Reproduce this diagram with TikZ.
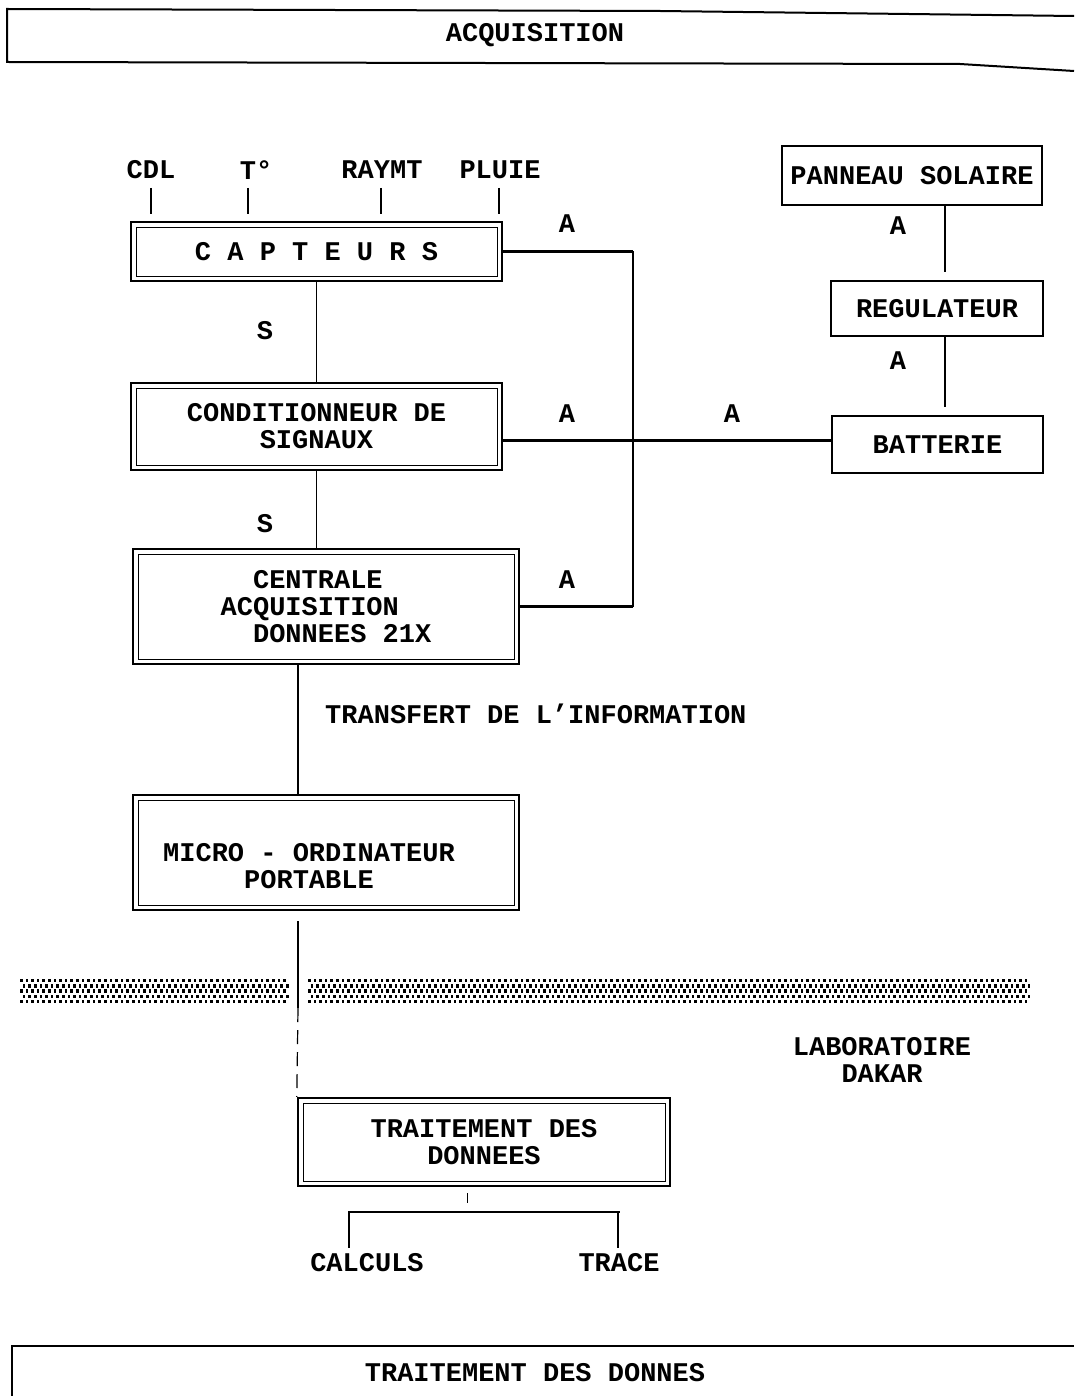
\documentclass[tikz,border=0pt]{standalone}
\usepackage{fontspec}
\setmonofont{Liberation Mono}
\begin{document}
\begin{tikzpicture}[x=1pt,y=-1pt,
  txt/.style={font=\fontsize{27}{27}\selectfont\ttfamily\bfseries, inner sep=0pt, align=center},
  dbox/.style={txt, draw, line width=2.4pt,
    path picture={\draw[line width=0.9pt] ([shift={(5pt,-5pt)}]path picture bounding box.north west) rectangle ([shift={(-5pt,5pt)}]path picture bounding box.south east);}},
  sbox/.style={txt, draw, line width=1.4pt},
  conn/.style={line width=1.2pt},
  bus/.style={line width=2.2pt},
  frame/.style={line width=2pt}
]
\useasboundingbox (0,0) rectangle (1074,1396);
\clip (0,0) rectangle (1074,1396);

% headers
\draw[frame] (1074,16) -- (660,11) -- (7,9) -- (7,62) -- (960,64) -- (1074,71);
\node[txt] (hdr) at (535,35) {ACQUISITION};
\draw[frame] (12,1400) -- (12,1346) -- (1074,1346);
\node[txt] (ftr) at (535,1373) {TRAITEMENT DES DONNES};

% sensors
\node[txt] (cdl) at (151,170) {CDL};
\node[txt] (temp) at (256,170) {T°};
\node[txt] (ray) at (382,170) {RAYMT};
\node[txt] (pluie) at (500,170) {PLUIE};

% main chain
\node[dbox, minimum width=371, minimum height=59] (capt) at (316.5,251.5) {C A P T E U R S};
\node[dbox, minimum width=371, minimum height=87] (cond) at (316.5,426.5) {CONDITIONNEUR DE\\SIGNAUX};
\node[dbox, minimum width=386, minimum height=115, align=left] (cent) at (326,606.5) {\ \ CENTRALE\\ACQUISITION\\\ \ DONNEES 21X};
\node[dbox, minimum width=386, minimum height=115] (micro) at (326,852.5) {};
\node[txt] (microt) at (309,866) {MICRO - ORDINATEUR\\PORTABLE};
\node[dbox, minimum width=372, minimum height=88] (trait) at (484,1142) {TRAITEMENT DES\\DONNEES};

% power chain
\node[sbox, minimum width=260, minimum height=59] (pan) at (912,175.5) {PANNEAU SOLAIRE};
\node[sbox, minimum width=212, minimum height=55] (reg) at (937,308.5) {REGULATEUR};
\node[sbox, minimum width=211, minimum height=57] (batt) at (937.5,444.5) {BATTERIE};

% sensor ticks
\coordinate (cc) at (151,188);
\coordinate (tt) at (248,188);
\coordinate (rr) at (381,188);
\coordinate (pp) at (499,188);
\foreach \k in {cc,tt,rr,pp} {
  \draw[conn] (\k) -- ([yshift=7pt]capt.north -| \k);
}

% S links
\draw[conn] (capt.south) -- (cond.north);
\node[txt] (s1) at (265,331) {S};
\draw[conn] (cond.south) -- (cond.south |- cent.north);
\node[txt] (s2) at (265,524) {S};

% A bus
\coordinate (busx) at (633,0);
\draw[bus] (capt.east) -- (capt.east -| busx);
\draw[conn] (capt.east -| busx) -- (cent.east -| busx);
\draw[bus] (cent.east -| busx) -- (cent.east);
\coordinate (bw) at ([yshift=4pt]batt.west);
\draw[bus] (cond.east |- bw) -- (bw);
\node[txt] (a1) at (567,224) {A};
\node[txt] (a2) at (567,414) {A};
\node[txt] (a3) at (732,414) {A};
\node[txt] (a4) at (567,580) {A};

% power links
\coordinate (px) at (945,0);
\draw[conn, shorten >=8pt] (pan.south -| px) -- (reg.north -| px);
\draw[conn, shorten >=8pt] (reg.south -| px) -- (batt.north -| px);
\node[txt] (a5) at (898,226) {A};
\node[txt] (a6) at (898,361) {A};

% transfer
\coordinate (tx) at (298,0);
\draw[conn] (cent.south -| tx) -- (micro.north -| tx);
\node[txt, anchor=west] (transf) at (325,714) {TRANSFERT DE L’INFORMATION};
\coordinate (band) at (298,1008);
\draw[conn] ([yshift=-10pt]micro.south -| tx) -- (band);
\draw[conn, dash pattern=on 14pt off 8pt] (band) -- (trait.north west);

% dotted band
\foreach \r in {0,...,4} {
  \pgfmathsetmacro{\off}{mod(\r,2)*2.8}
  \foreach \c in {0,...,47} {
    \fill ({20+\c*5.6+\off}, {979+\r*5.2}) rectangle ++(2.6,3.4);
  }
  \foreach \c in {0,...,128} {
    \fill ({308+\c*5.6+\off}, {979+\r*5.2}) rectangle ++(2.6,3.4);
  }
}

\node[txt] (lab) at (882,1060) {LABORATOIRE\\DAKAR};

% outputs
\node[txt] (calc) at (367,1263) {CALCULS};
\node[txt] (trace) at (619,1263) {TRACE};
\coordinate (lx) at (349,1212);
\coordinate (rx) at (618,1212);
\coordinate (mx) at (467,1212);
\draw[line width=0.8pt, dash pattern=on 10pt off 30pt] ([yshift=-6pt]trait.south -| mx) -- (mx);
\draw[conn, shorten <=6pt] (calc.north -| lx) -- (lx) -- (620,1212);
\draw[conn, shorten >=6pt] (rx) -- (trace.north -| rx);
\end{tikzpicture}
\end{document}
